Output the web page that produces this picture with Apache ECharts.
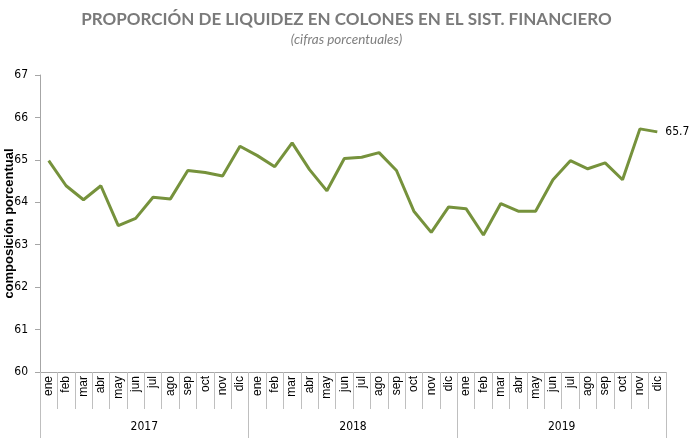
<!DOCTYPE html>
<html>
<head>
<meta charset="utf-8">
<script src="https://cdn.jsdelivr.net/npm/echarts@6/dist/echarts.min.js"></script>
<style>
  html, body { margin: 0; padding: 0; background: #fff; }
  #chart { width: 693px; height: 445px; }
</style>
</head>
<body>
<div id="chart"></div>
<script>
  // meses y años del eje x
  const months = ['ene', 'feb', 'mar', 'abr', 'may', 'jun', 'jul', 'ago', 'sep', 'oct', 'nov', 'dic'];
  const years = ['2017', '2018', '2019'];
  const categories = [];
  years.forEach(y => months.forEach(m => categories.push(m + ' ' + y)));

  // proporción de liquidez (%)
  const liquidez = [
    64.98, 64.39, 64.06, 64.39, 63.45, 63.62, 64.12, 64.08, 64.75, 64.70, 64.62, 65.32,
    65.10, 64.84, 65.40, 64.77, 64.27, 65.03, 65.06, 65.17, 64.75, 63.79, 63.29, 63.89,
    63.85, 63.23, 63.97, 63.79, 63.79, 64.53, 64.98, 64.79, 64.93, 64.53, 65.73, 65.66
  ];

  const yMin = 60, yMax = 67, yStep = 1;

  const narrow = '"Liberation Sans Narrow", "DejaVu Sans Condensed", "Open Sans", sans-serif';

  let chart = echarts.init(document.getElementById('chart'));
  let options = {
    animation: false,
    title: {
      text: 'PROPORCIÓN DE LIQUIDEZ EN COLONES EN EL SIST. FINANCIERO',
      subtext: '(cifras porcentuales)',
      left: 'center',
      top: 6,
      itemGap: 5,
      textStyle: {
        color: '#7a7a7a',
        fontFamily: 'Lato',
        fontWeight: 'bold',
        fontSize: 17
      },
      subtextStyle: {
        color: '#7f7f7f',
        fontFamily: 'Lato',
        fontStyle: 'italic',
        fontSize: 13.5
      }
    },
    grid: {
      top: 75,
      left: 40,
      right: 27,
      bottom: 73,
      containLabel: false,
      outerBoundsMode: 'none'
    },
    xAxis: [{
      type: 'category',
      position: 'bottom',
      boundaryGap: true,
      data: categories,
      axisLine: {
        show: true,
        lineStyle: { color: '#a6a6a6' }
      },
      axisTick: {
        show: true,
        interval: 0,
        length: 37,
        lineStyle: { color: '#bfbfbf' }
      },
      axisLabel: {
        interval: 0,
        rotate: 90,
        margin: 4,
        color: '#000',
        fontFamily: 'Liberation Sans',
        fontSize: 12,
        formatter: v => v.split(' ')[0]
      }
    }, {
      type: 'category',
      position: 'bottom',
      data: years,
      axisLine: { show: false },
      axisTick: {
        show: true,
        interval: 0,
        length: 66,
        lineStyle: { color: '#bfbfbf' }
      },
      axisLabel: {
        interval: 0,
        margin: 49,
        color: '#000',
        fontFamily: narrow,
        fontSize: 12
      }
    }],
    yAxis: {
      type: 'value',
      min: yMin,
      max: yMax,
      interval: yStep,
      name: 'composición porcentual',
      nameLocation: 'middle',
      nameGap: 24,
      nameMoveOverlap: false,
      nameTextStyle: {
        color: '#000',
        fontFamily: 'Liberation Sans',
        fontWeight: 'bold',
        fontSize: 13
      },
      splitLine: { show: false },
      axisLine: {
        show: true,
        lineStyle: { color: '#a6a6a6' }
      },
      axisTick: {
        show: true,
        length: 5,
        lineStyle: { color: '#a6a6a6' }
      },
      axisLabel: {
        margin: 12,
        color: '#000',
        fontFamily: narrow,
        fontSize: 12
      }
    },
    series: [{
      type: 'line',
      xAxisIndex: 0,
      data: liquidez,
      symbol: 'none',
      lineStyle: {
        color: '#76923c',
        width: 3
      },
      endLabel: {
        show: true,
        distance: 8,
        color: '#000',
        fontFamily: narrow,
        fontSize: 12,
        formatter: p => p.value.toFixed(1)
      }
    }]
  };
  chart.setOption(options);
</script>
</body>
</html>
